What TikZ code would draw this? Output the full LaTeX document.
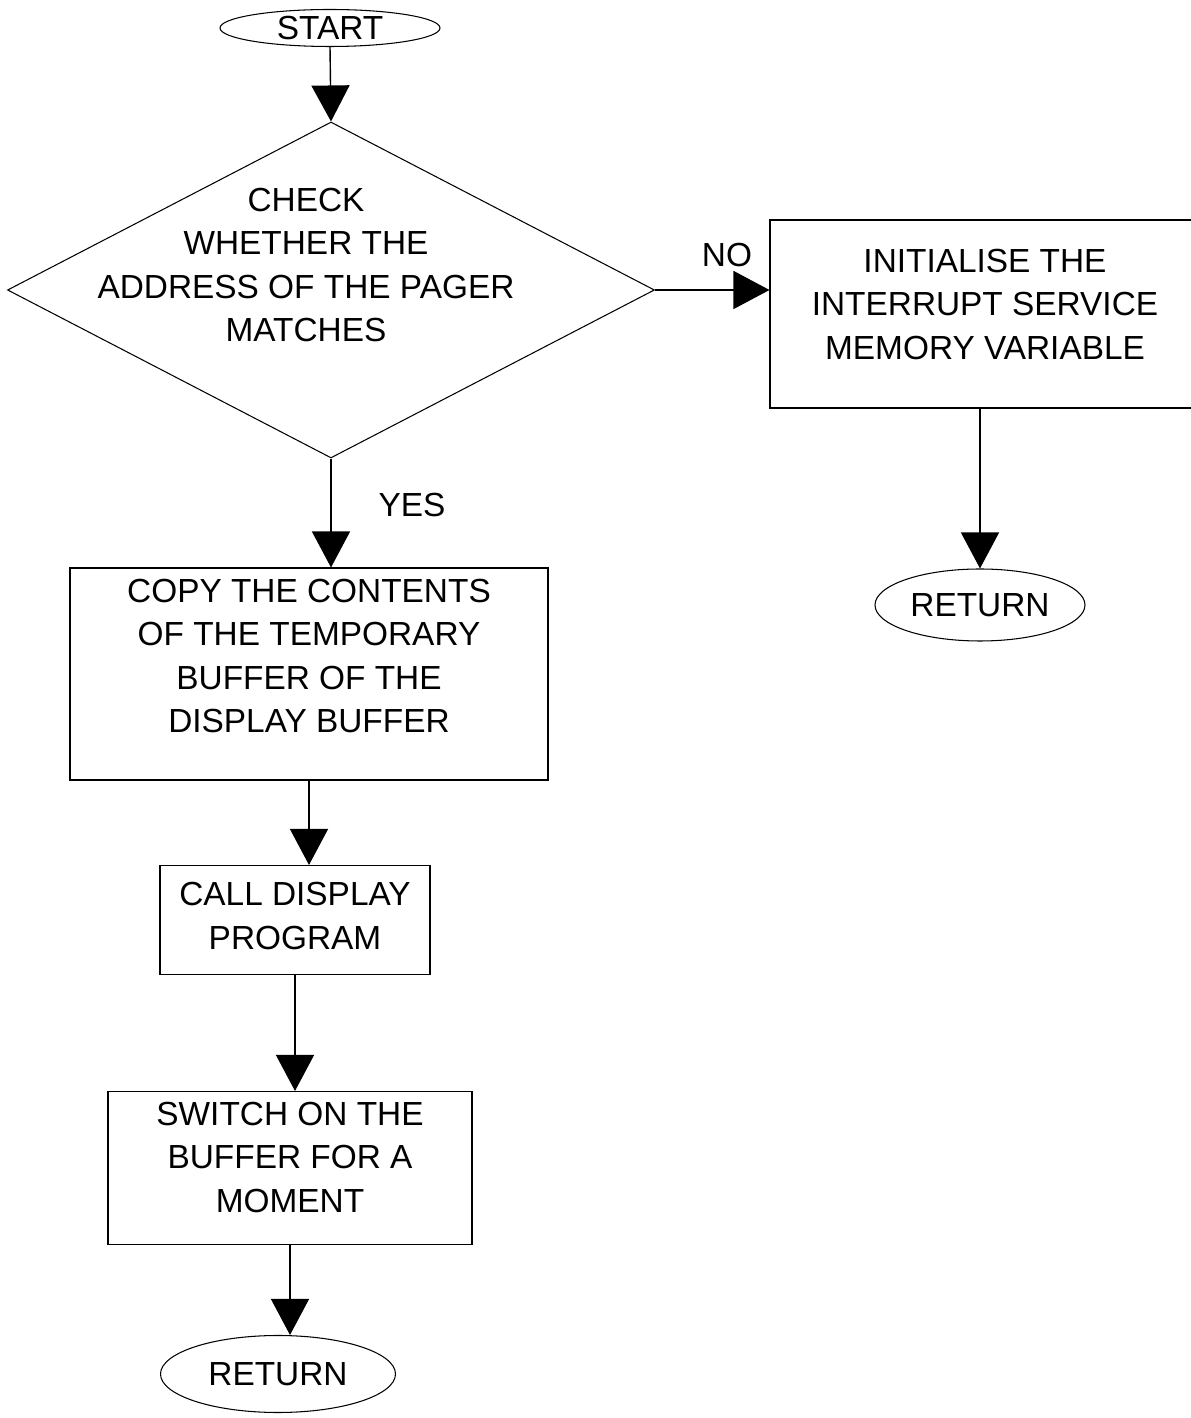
\documentclass[tikz,border=0pt]{standalone}
\usepackage{fontspec}
\setmainfont{Liberation Sans}
\usetikzlibrary{shapes.geometric}
\usetikzlibrary{arrows.meta}
\usetikzlibrary{math}

\tikzset{
    termbox/.style={draw, ellipse, line width=0.6pt, inner sep=0pt},
    procbox/.style={draw, rectangle, line width=0.6pt, align=center, inner sep=0pt},
    decisionbox/.style={draw, diamond, line width=0.6pt, inner sep=0pt},
    flowtext/.style={align=center, inner sep=0pt},
    flowarrow/.style={line width=0.8pt, -{Triangle[width=0.76cm, length=0.72cm]}},
}

\begin{document}
\begin{tikzpicture}[font=\fontsize{19}{24.75}\selectfont]

\useasboundingbox (0,0) rectangle (23.82,28.36);

% Position settings
\tikzmath{
    % Left column
    \xstart = 6.6;   \ystart = 27.8;
    \xcheck = 6.62;  \ycheck = 22.56;
    \xcopy = 6.18;   \ycopy = 14.88;
    \xcall = 5.9;    \ycall = 9.96;
    \xswitch = 5.8;  \yswitch = 5.0;
    \xretL = 5.56;   \yretL = 0.88;
    % Right column
    \xinit = 19.7;   \yinit = 22.08;
    \xretR = 19.6;   \yretR = 16.26;
}

% Draws start and decision
\node[termbox, minimum width=4.4cm, minimum height=0.74cm] (start) at (\xstart,\ystart) {START};
\node[decisionbox, minimum width=12.94cm, minimum height=6.72cm] (check) at (\xcheck,\ycheck) {};
\node[flowtext] (checktext) at (6.12,23.06) {CHECK\\WHETHER THE\\ADDRESS OF THE PAGER\\MATCHES};

% Draws right branch
\node[procbox, text depth=0.4cm, minimum width=8.6cm, minimum height=3.76cm] (init) at (\xinit,\yinit) {INITIALISE THE\\INTERRUPT SERVICE\\MEMORY VARIABLE};
\node[termbox, minimum width=4.2cm, minimum height=1.44cm] (retR) at (\xretR,\yretR) {RETURN};

% Draws left branch
\node[procbox, text depth=0.72cm, minimum width=9.56cm, minimum height=4.24cm] (copy) at (\xcopy,\ycopy) {COPY THE CONTENTS\\OF THE TEMPORARY\\BUFFER OF THE\\DISPLAY BUFFER};
\node[procbox, text depth=0.16cm, minimum width=5.4cm, minimum height=2.18cm] (call) at (\xcall,\ycall) {CALL DISPLAY\\PROGRAM};
\node[procbox, text depth=0.44cm, minimum width=7.28cm, minimum height=3.06cm] (switch) at (\xswitch,\yswitch) {SWITCH ON THE\\BUFFER FOR A\\MOMENT};
\node[termbox, minimum width=4.7cm, minimum height=1.54cm] (retL) at (\xretL,\yretL) {RETURN};

% Branch labels
\node[flowtext] (nolabel) at (14.54,23.26) {NO};
\node[flowtext] (yeslabel) at (8.24,18.26) {YES};

% Draws connectors
\draw[flowarrow] (start.south) -- (check.north);
\draw[flowarrow] (check.east) -- (check.east -| init.west);
\draw[flowarrow] (init.south -| retR.north) -- (retR.north);
\draw[flowarrow] (check.south) -- (check.south |- copy.north);
\draw[flowarrow] (copy.south) -- (copy.south |- call.north);
\draw[flowarrow] (call.south) -- (call.south |- switch.north);
\draw[flowarrow] (switch.south) -- (switch.south |- retL.north);

\end{tikzpicture}
\end{document}
